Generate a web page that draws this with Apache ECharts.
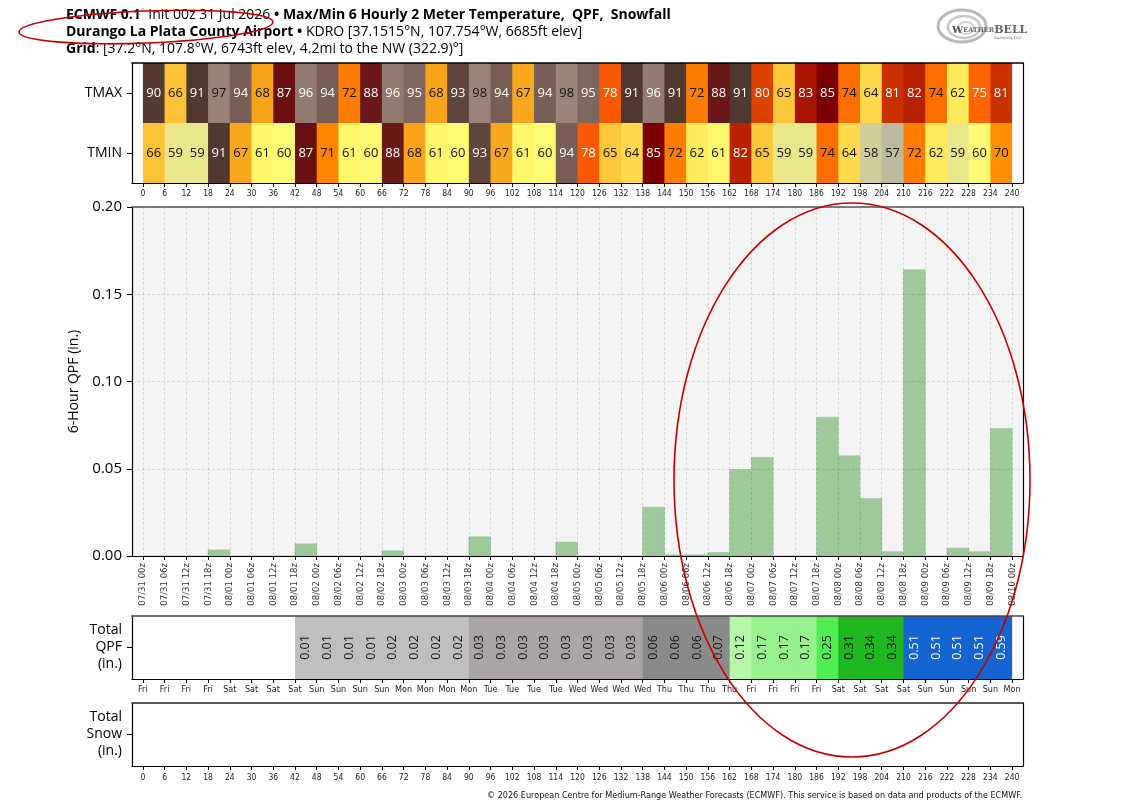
<!DOCTYPE html>
<html><head><meta charset="utf-8">
<script src="https://cdn.jsdelivr.net/npm/echarts@6/dist/echarts.min.js"></script>
<style>html,body{margin:0;padding:0;background:#fff}#c{width:1145px;height:808px}</style>
</head><body><div id="c"></div>
<script>
// ---------- data ----------
const hours = [0,6,12,18,24,30,36,42,48,54,60,66,72,78,84,90,96,102,108,114,120,126,132,138,144,150,156,162,168,174,180,186,192,198,204,210,216,222,228,234,240];
const dateLabels = ['07/31 00z','07/31 06z','07/31 12z','07/31 18z',
 '08/01 00z','08/01 06z','08/01 12z','08/01 18z',
 '08/02 00z','08/02 06z','08/02 12z','08/02 18z',
 '08/03 00z','08/03 06z','08/03 12z','08/03 18z',
 '08/04 00z','08/04 06z','08/04 12z','08/04 18z',
 '08/05 00z','08/05 06z','08/05 12z','08/05 18z',
 '08/06 00z','08/06 06z','08/06 12z','08/06 18z',
 '08/07 00z','08/07 06z','08/07 12z','08/07 18z',
 '08/08 00z','08/08 06z','08/08 12z','08/08 18z',
 '08/09 00z','08/09 06z','08/09 12z','08/09 18z','08/10 00z'];
const dayLabels = ['Fri','Fri','Fri','Fri','Sat','Sat','Sat','Sat','Sun','Sun','Sun','Sun','Mon','Mon','Mon','Mon',
 'Tue','Tue','Tue','Tue','Wed','Wed','Wed','Wed','Thu','Thu','Thu','Thu','Fri','Fri','Fri','Fri',
 'Sat','Sat','Sat','Sat','Sun','Sun','Sun','Sun','Mon'];
const rowNames = ['TMIN','TMAX'];
const tmax = [90,66,91,97,94,68,87,96,94,72,88,96,95,68,93,98,94,67,94,98,95,78,91,96,91,72,88,91,80,65,83,85,74,64,81,82,74,62,75,81];
const tmin = [66,59,59,91,67,61,60,87,71,61,60,88,68,61,60,93,67,61,60,94,78,65,64,85,72,62,61,82,65,59,59,74,64,58,57,72,62,59,60,70];
const qpf6h = [0,0,0,0.0035,0,0,0,0.007,0,0,0,0.003,0,0,0,0.011,0,0,0,0.008,0,0,0,0.028,0.0007,0.0007,0.002,0.0495,0.0565,0,0,0.0795,0.0575,0.033,0.0025,0.164,0,0.0045,0.0025,0.073];
const qpfTotal = [null,null,null,null,null,null,null,0.01,0.01,0.01,0.01,0.02,0.02,0.02,0.02,0.03,0.03,0.03,0.03,0.03,0.03,0.03,0.03,0.06,0.06,0.06,0.07,0.12,0.17,0.17,0.17,0.25,0.31,0.34,0.34,0.51,0.51,0.51,0.51,0.59];
const qpfTicks = [0,0.05,0.10,0.15,0.20];

// ---------- styles ----------
const tempPalette = {57:'#bdbb9f',58:'#d0cd99',59:'#e9e68c',60:'#fdfb74',61:'#fff66a',62:'#ffea5c',64:'#ffd94b',65:'#fdc73a',66:'#fcc134',67:'#f9a71c',68:'#f9a31a',70:'#ff8e00',71:'#ff8400',72:'#ff7d00',74:'#ff6e00',75:'#ff6400',78:'#f85800',80:'#dc4200',81:'#c93200',82:'#b82200',83:'#a81400',85:'#7c0000',87:'#6a1010',88:'#6b1818',90:'#553a30',91:'#50382e',93:'#5f453b',94:'#785e54',95:'#7e665c',96:'#927a70',97:'#9a8176',98:'#9c8479'};
function tempText(t){ return (t>=75 && t<=96) ? '#ffffff' : '#111111'; }
function totColor(v){ if(v<0.025) return '#bfbfbf'; if(v<0.05) return '#aba4a4'; if(v<0.1) return '#8a8a8a'; if(v<0.15) return '#b4f8a8'; if(v<0.2) return '#98f08e'; if(v<0.3) return '#50ee50'; if(v<0.5) return '#20b820'; return '#1464d2'; }
const FONT = '"Open Sans", "Noto Sans", sans-serif';
const NARROW = '"Liberation Sans Narrow", "DejaVu Sans Condensed", "Open Sans", sans-serif';

const heatData = [];
tmax.forEach((t,i)=>heatData.push([hours[i],hours[i+1],1,t]));
tmin.forEach((t,i)=>heatData.push([hours[i],hours[i+1],0,t]));
const qpfData = qpf6h.map((v,i)=>[hours[i],hours[i+1],v]);
const totData = [];
qpfTotal.forEach((v,i)=>{ if(v!=null) totData.push([hours[i],hours[i+1],0,v]); });

// ---------- axes helpers ----------
const GL = 132, GW = 891;
const grids = [
  {left:GL, top:63, width:GW, height:120},
  {left:GL, top:207, width:GW, height:349, show:true, backgroundColor:'#f4f4f4', borderWidth:0},
  {left:GL, top:616, width:GW, height:63},
  {left:GL, top:703, width:GW, height:63}
];
function bottomX(g, labels, opt){
  return Object.assign({type:'value', gridIndex:g, min:-3, max:243, position:'bottom', z:5,
    axisLine:{show:true, onZero:false, lineStyle:{color:'#000', width:1.2}},
    axisTick:{show:true, customValues:hours, length:4, lineStyle:{color:'#000'}},
    axisLabel:{customValues:hours, color:'#222', fontFamily:NARROW, fontSize:9, margin:6,
      formatter:(v)=>labels[Math.round(v/6)]},
    splitLine:{show:false}}, opt||{});
}
function topX(g, color){
  return {type:'value', gridIndex:g, min:-3, max:243, position:'top', z:5,
    axisLine:{show:true, onZero:false, lineStyle:{color:color||'#333', width:1.5}},
    axisTick:{show:false}, axisLabel:{show:false}, splitLine:{show:false}};
}
function rightY(g){
  return {type:'value', gridIndex:g, min:0, max:1, position:'right', z:5,
    axisLine:{show:true, onZero:false, lineStyle:{color:'#000', width:1.2}},
    axisTick:{show:false}, axisLabel:{show:false}, splitLine:{show:false}};
}
function catY(g, names){
  return {type:'category', gridIndex:g, data:names, position:'left', z:5,
    axisLine:{show:true, onZero:false, lineStyle:{color:'#000', width:1.2}},
    axisTick:{show:true, alignWithLabel:true, length:5, lineStyle:{color:'#000'}},
    axisLabel:{color:'#000', fontFamily:FONT, fontSize:14, margin:10, lineHeight:17, align:'right'},
    splitLine:{show:false}};
}

const option = {
  animation:false,
  backgroundColor:'#ffffff',
  grid: grids,
  xAxis:[
    bottomX(0, hours.map(String), {axisLabel:{customValues:hours, color:'#222', fontFamily:NARROW, fontSize:8.5, margin:6, formatter:(v)=>String(v)}}),
    topX(0, '#000'),
    bottomX(1, dateLabels, {axisLabel:{customValues:hours, color:'#333', fontFamily:NARROW, fontSize:9.5, margin:7, rotate:90, formatter:(v)=>dateLabels[Math.round(v/6)]},
      splitLine:{show:true, lineStyle:{color:'rgba(0,0,0,0.11)', type:[3,2], width:1}}}),
    topX(1, '#555'),
    bottomX(2, dayLabels, {axisLabel:{customValues:hours, color:'#222', fontFamily:NARROW, fontSize:9, margin:6, formatter:(v)=>dayLabels[Math.round(v/6)]}}),
    topX(2, '#444'),
    bottomX(3, hours.map(String), {axisLabel:{customValues:hours, color:'#222', fontFamily:NARROW, fontSize:8.5, margin:7, formatter:(v)=>String(v)}}),
    topX(3, '#222')
  ],
  yAxis:[
    catY(0, rowNames),
    rightY(0),
    {type:'value', gridIndex:1, min:0, max:0.2, interval:0.05, position:'left', z:5,
      name:'6-Hour QPF (in.)', nameLocation:'middle', nameGap:46, nameRotate:90,
      nameTextStyle:{fontFamily:FONT, fontSize:14, color:'#000'},
      axisLine:{show:true, onZero:false, lineStyle:{color:'#000', width:1.2}},
      axisTick:{show:true, length:5, lineStyle:{color:'#000'}},
      axisLabel:{fontFamily:FONT, fontSize:15, color:'#000', margin:10, formatter:(v)=>v.toFixed(2)},
      splitLine:{show:true, lineStyle:{color:'rgba(0,0,0,0.11)', type:[3,2]}}},
    rightY(1),
    catY(2, ['Total\nQPF\n(in.)']),
    rightY(2),
    catY(3, ['Total\nSnow\n(in.)']),
    rightY(3)
  ],
  series:[
    {type:'custom', name:'temps', xAxisIndex:0, yAxisIndex:0, data:heatData, encode:{x:[0,1], y:2}, z:2,
      renderItem:(params, api)=>{
        const x0=api.value(0), x1=api.value(1), row=api.value(2), t=api.value(3);
        const p0=api.coord([x0,row]), p1=api.coord([x1,row]);
        const bh=api.size([0,1])[1];
        const w = (x1 >= 240) ? (p1[0]-p0[0]) : (p1[0]-p0[0]+1);
        return {type:'group', children:[
          {type:'rect', shape:{x:p0[0], y:p0[1]-bh/2, width:w, height:bh}, style:{fill:tempPalette[t]||'#ccc'}},
          {type:'text', x:(p0[0]+p1[0])/2, y:p0[1], z2:10, style:{text:String(t), fill:tempText(t), font:'13px '+FONT, align:'center', verticalAlign:'middle'}}
        ]};
      }},
    {type:'custom', name:'qpf', xAxisIndex:2, yAxisIndex:2, data:qpfData, encode:{x:[0,1], y:2}, z:2,
      renderItem:(params, api)=>{
        const a=api.coord([api.value(0),0]), b=api.coord([api.value(1),api.value(2)]);
        return {type:'rect', shape:{x:a[0], y:b[1], width:b[0]-a[0], height:a[1]-b[1]}, style:{fill:'#9dc99b', stroke:'#93c091', lineWidth:0.5}};
      }},
    {type:'custom', name:'total', xAxisIndex:4, yAxisIndex:4, data:totData, encode:{x:[0,1], y:2}, z:2,
      renderItem:(params, api)=>{
        const v=api.value(3);
        const x1=api.value(1);
        const p0=api.coord([api.value(0),0]), p1=api.coord([x1,0]);
        const bh=api.size([0,1])[1];
        const w = (x1 >= 240) ? (p1[0]-p0[0]) : (p1[0]-p0[0]+1);
        return {type:'group', children:[
          {type:'rect', shape:{x:p0[0], y:p0[1]-bh/2, width:w, height:bh}, style:{fill:totColor(v)}},
          {type:'text', x:(p0[0]+p1[0])/2, y:p0[1], z2:10, rotation:Math.PI/2, style:{text:v.toFixed(2), fill:v>=0.5?'#ffffff':'#111111', font:'12.5px '+FONT, align:'center', verticalAlign:'middle'}}
        ]};
      }}
  ],
  graphic:[
    {type:'text', x:66, y:15, style:{text:'{b|ECMWF 0.1}{s|°}{n| Init 00z 31 Jul 2026 }{b|• Max/Min 6 Hourly 2 Meter Temperature,  QPF,  Snowfall}',
      verticalAlign:'middle', rich:{b:{fontFamily:FONT, fontSize:14, fontWeight:'bold', fill:'#000'}, n:{fontFamily:FONT, fontSize:14, fill:'#000'}, s:{fontFamily:FONT, fontSize:9, fill:'#888', verticalAlign:'top'}}}},
    {type:'text', x:66, y:32, style:{text:'{b|Durango La Plata County Airport}{b| • }{n|KDRO [37.1515°N, 107.754°W, 6685ft elev]}',
      verticalAlign:'middle', rich:{b:{fontFamily:FONT, fontSize:14, fontWeight:'bold', fill:'#000'}, n:{fontFamily:FONT, fontSize:14, fill:'#000'}}}},
    {type:'text', x:66, y:49, style:{text:'{b|Grid}{n|: [37.2°N, 107.8°W, 6743ft elev, 4.2mi to the NW (322.9)°]}',
      verticalAlign:'middle', rich:{b:{fontFamily:FONT, fontSize:14, fontWeight:'bold', fill:'#000'}, n:{fontFamily:FONT, fontSize:14, fill:'#000'}}}},
    {type:'text', x:1022, y:796, style:{text:'© 2026 European Centre for Medium-Range Weather Forecasts (ECMWF). This service is based on data and products of the ECMWF.',
      font:'9px '+NARROW, fill:'#111', align:'right', verticalAlign:'middle'}},
    // logo
    {type:'group', x:0, y:0, children:[
      {type:'ellipse', shape:{cx:962, cy:26, rx:24, ry:16}, style:{fill:'none', stroke:'#b8b8b8', lineWidth:3}},
      {type:'ellipse', shape:{cx:964, cy:27, rx:16, ry:11}, style:{fill:'none', stroke:'#c8c8c8', lineWidth:2.5}},
      {type:'ellipse', shape:{cx:966, cy:28, rx:8, ry:6}, style:{fill:'none', stroke:'#d4d4d4', lineWidth:2}},
      {type:'text', x:952, y:30, style:{text:'{a|W}{b|EATHER}{c|BELL}', verticalAlign:'middle',
        rich:{a:{fontFamily:'"DejaVu Serif", serif', fontSize:10, fontWeight:'bold', fill:'#555'}, b:{fontFamily:'"DejaVu Serif", serif', fontSize:6.5, fontWeight:'bold', fill:'#666'}, c:{fontFamily:'"DejaVu Serif", serif', fontSize:11, fontWeight:'bold', fill:'#666'}}}},
      {type:'text', x:1022, y:38, style:{text:'Analytics LLC', font:'4px "DejaVu Serif", serif', fill:'#777', align:'right', verticalAlign:'middle'}}
    ]},
    // red annotation ellipses
    {type:'ellipse', x:146, y:27, rotation:0.04, shape:{cx:0, cy:0, rx:127, ry:16}, style:{fill:'none', stroke:'#c40000', lineWidth:1.6}, z:100},
    {type:'ellipse', shape:{cx:852, cy:480, rx:178, ry:277}, style:{fill:'none', stroke:'#c40000', lineWidth:1.6}, z:100}
  ]
};
const chart = echarts.init(document.getElementById('c'), null, {renderer:'canvas'});
chart.setOption(option);
</script></body></html>
